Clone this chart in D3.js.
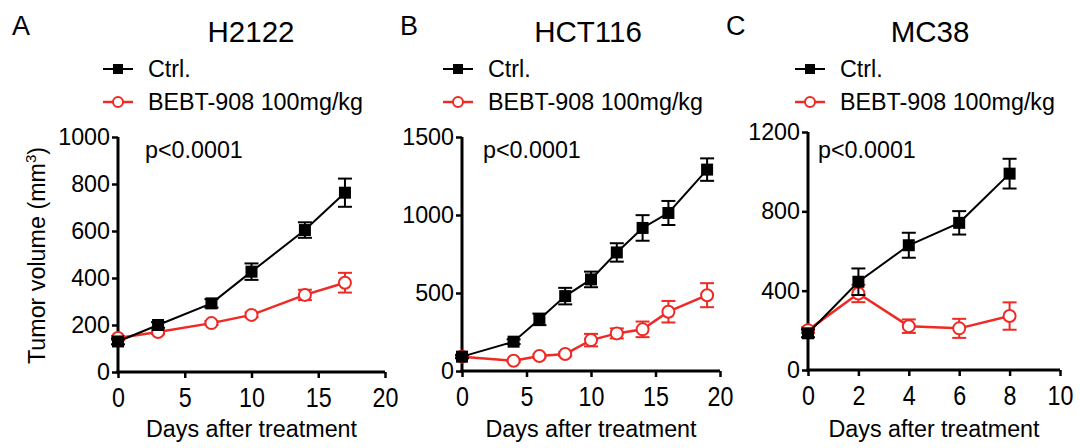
<!DOCTYPE html>
<html><head><meta charset="utf-8">
<script src="https://cdn.jsdelivr.net/npm/d3@7"></script>
<style>body{margin:0;background:#fff}svg{display:block}text{font-family:"Liberation Sans",Arial,sans-serif}</style>
</head><body>
<script>
// ---- data ----
const daysA = [0, 3, 7, 10, 14, 17];
const ctrlA = [130, 200, 292, 427, 604, 763];
const ctrlErrA = [12, 12, 18, 35, 33, 60];
const bebtA = [145, 170, 208, 243, 328, 380];
const bebtErrA = [8, 8, 8, 10, 22, 42];

const daysB = [0, 4, 6, 8, 10, 12, 14, 16, 19];
const ctrlB = [92, 188, 331, 480, 587, 760, 917, 1013, 1291];
const ctrlErrB = [10, 15, 37, 53, 50, 59, 82, 77, 72];
const bebtB = [92, 66, 96, 109, 198, 241, 267, 380, 486];
const bebtErrB = [8, 8, 10, 12, 40, 32, 50, 69, 77];

const daysC = [0, 2, 4, 6, 8];
const ctrlC = [185, 445, 629, 742, 990];
const ctrlErrC = [20, 67, 63, 59, 75];
const bebtC = [201, 386, 221, 210, 272];
const bebtErrC = [15, 44, 34, 48, 69];

const titles = ["H2122", "HCT116", "MC38"];
const letters = ["A", "B", "C"];
const yTicksA = [0, 200, 400, 600, 800, 1000];
const yTicksB = [0, 500, 1000, 1500];
const yTicksC = [0, 400, 800, 1200];
const xTicksA = [0, 5, 10, 15, 20];
const xTicksB = [0, 5, 10, 15, 20];
const xTicksC = [0, 2, 4, 6, 8, 10];
const legendLabels = ["Ctrl.", "BEBT-908 100mg/kg"];
const pText = "p<0.0001";
const xTitle = "Days after treatment";

// ---- layout ----
const FS = 23.3;
const panels = [
  {days: daysA, c: ctrlA, ce: ctrlErrA, b: bebtA, be: bebtErrA, yt: yTicksA, xt: xTicksA,
   x0: 118, x1: 385, y0: 372, y1: 137, letterX: 12, titleX: 251, legX: 103, pX: 145, yTitle: true},
  {days: daysB, c: ctrlB, ce: ctrlErrB, b: bebtB, be: bebtErrB, yt: yTicksB, xt: xTicksB,
   x0: 462, x1: 720, y0: 371, y1: 137, letterX: 400, titleX: 588, legX: 443, pX: 483, yTitle: false},
  {days: daysC, c: ctrlC, ce: ctrlErrC, b: bebtC, be: bebtErrC, yt: yTicksC, xt: xTicksC,
   x0: 808, x1: 1060, y0: 370, y1: 132, letterX: 726, titleX: 930, legX: 795, pX: 818, yTitle: false}
];
const RED = "#ee2a24";
const svg = d3.select("body").append("svg").attr("width", 1080).attr("height", 448);

panels.forEach((p, i) => {
  const xs = d3.scaleLinear().domain(d3.extent(p.xt)).range([p.x0, p.x1]);
  const ys = d3.scaleLinear().domain(d3.extent(p.yt)).range([p.y0, p.y1]);
  const g = svg.append("g");

  // letter & title
  g.append("text").attr("x", p.letterX).attr("y", 35).attr("font-size", 27).text(letters[i]);
  g.append("text").attr("x", p.titleX).attr("y", 42).attr("font-size", 29.5).attr("text-anchor", "middle").text(titles[i]);

  // legend
  [0, 1].forEach(k => {
    const ly = k === 0 ? 69 : 102;
    const col = k === 0 ? "#000" : RED;
    g.append("line").attr("x1", p.legX).attr("x2", p.legX + 30).attr("y1", ly).attr("y2", ly)
      .attr("stroke", col).attr("stroke-width", k === 0 ? 2 : 2.5);
    if (k === 0) g.append("rect").attr("x", p.legX + 10).attr("y", ly - 5).attr("width", 10).attr("height", 10).attr("fill", "#000");
    else g.append("circle").attr("cx", p.legX + 15).attr("cy", ly).attr("r", 5).attr("fill", "#fff").attr("stroke", RED).attr("stroke-width", 2);
    g.append("text").attr("x", p.legX + 45).attr("y", ly + 8).attr("font-size", FS).text(legendLabels[k]);
  });

  // axes
  const yAxis = d3.axisLeft(ys).tickValues(p.yt).tickSize(6).tickPadding(2).tickFormat(d3.format("d"));
  const xAxis = d3.axisBottom(xs).tickValues(p.xt).tickSize(6).tickPadding(6).tickFormat(d3.format("d"));
  const ya = g.append("g").attr("transform", `translate(${p.x0},0)`).call(yAxis);
  const xa = g.append("g").attr("transform", `translate(0,${p.y0})`).call(xAxis);
  [ya, xa].forEach(a => {
    a.select(".domain").attr("stroke", "#000").attr("stroke-width", 3);
    a.selectAll(".tick line").attr("stroke", "#000").attr("stroke-width", 2.5);
    a.selectAll("text").attr("font-size", FS).attr("fill", "#000").attr("font-family", '"Liberation Sans",Arial,sans-serif');
  });
  xa.selectAll(".tick text").attr("y", 14).attr("transform", "scale(1,1.15)");
  ya.select(".domain").attr("d", `M0,${p.y0 + 1.5}V${p.y1}`);
  xa.select(".domain").attr("d", `M${p.x0 - 1.5},0H${p.x1}`);

  // p text
  g.append("text").attr("x", p.pX).attr("y", 158).attr("font-size", FS).text(pText);

  // titles
  g.append("text").attr("x", (p.x0 + p.x1) / 2).attr("y", 437).attr("font-size", FS).attr("text-anchor", "middle").text(xTitle);
  if (p.yTitle) {
    const t = g.append("text").attr("transform", `translate(45,${(p.y0 + p.y1) / 2 + 1}) rotate(-90)`)
      .attr("font-size", FS).attr("text-anchor", "middle");
    t.append("tspan").text("Tumor volume (mm");
    t.append("tspan").attr("font-size", 15).attr("dy", -9).text("3");
    t.append("tspan").attr("dy", 9).text(")");
  }

  // series
  const series = [
    {v: p.c, e: p.ce, col: "#000", w: 2, type: "sq"},
    {v: p.b, e: p.be, col: RED, w: 2.5, type: "ci"}
  ];
  [series[1], series[0]].forEach(s => {
    const sg = g.append("g");
    const line = d3.line().x((d, j) => xs(p.days[j])).y(d => ys(d));
    sg.append("path").datum(s.v).attr("d", line).attr("fill", "none").attr("stroke", s.col).attr("stroke-width", s.w);
    s.v.forEach((v, j) => {
      const cx = xs(p.days[j]);
      const yt = ys(v + s.e[j]), yb = ys(v - s.e[j]);
      sg.append("line").attr("x1", cx).attr("x2", cx).attr("y1", yt).attr("y2", yb).attr("stroke", s.col).attr("stroke-width", 2);
      sg.append("line").attr("x1", cx - 7).attr("x2", cx + 7).attr("y1", yt).attr("y2", yt).attr("stroke", s.col).attr("stroke-width", 2);
      sg.append("line").attr("x1", cx - 7).attr("x2", cx + 7).attr("y1", yb).attr("y2", yb).attr("stroke", s.col).attr("stroke-width", 2);
      if (s.type === "sq") sg.append("rect").attr("x", cx - 6).attr("y", ys(v) - 6).attr("width", 12).attr("height", 12).attr("fill", "#000");
      else sg.append("circle").attr("cx", cx).attr("cy", ys(v)).attr("r", 6).attr("fill", "#fff").attr("stroke", RED).attr("stroke-width", 2);
    });
  });
});
</script>
</body></html>
